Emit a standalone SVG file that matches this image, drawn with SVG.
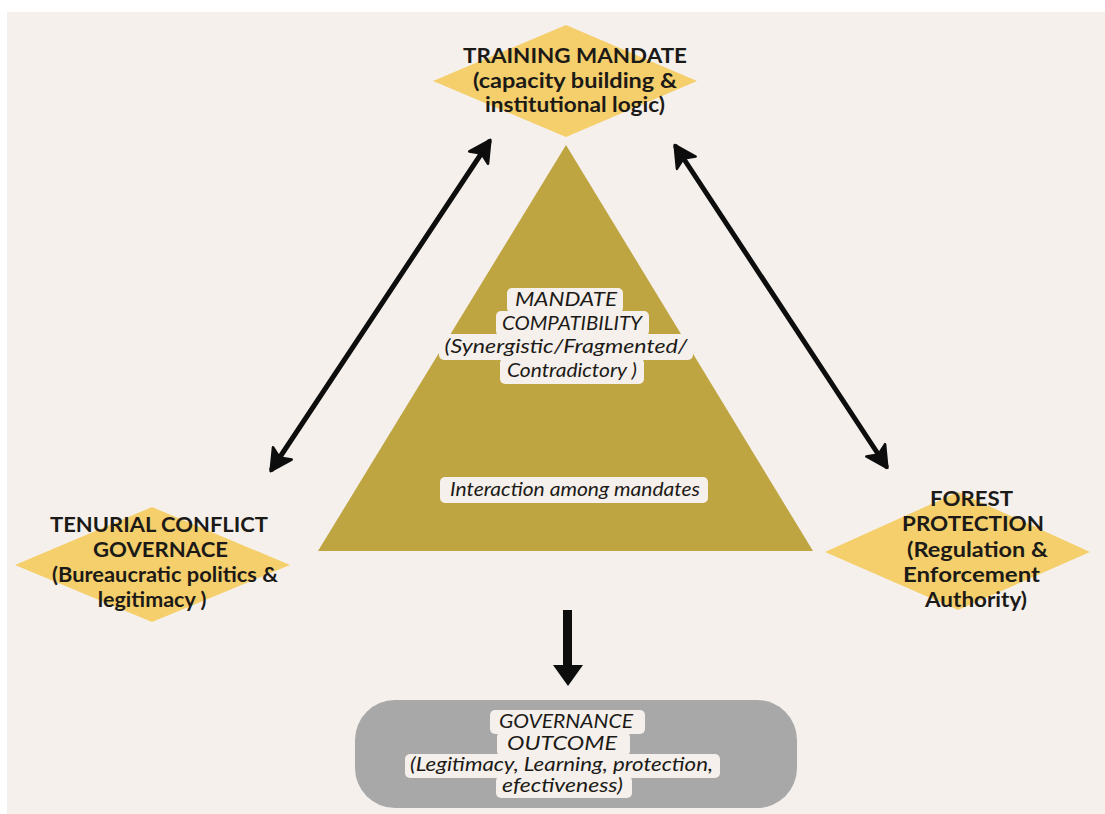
<svg xmlns="http://www.w3.org/2000/svg" width="1105" height="814" viewBox="0 0 1105 814">
  <defs>
    <style>
      .panel { fill: #f5f0eb; }
      .diamond { fill: #f5cf6c; }
      .pyramid { fill: #bfa442; }
      .outcome { fill: #a8a8a8; }
      .chip { fill: #f5f0eb; }
      .head { font-family: Lato, "Open Sans", "Liberation Sans", sans-serif; font-weight: 700; font-size: 21.5px; fill: #1c1a17; text-anchor: middle; }
      .note { font-family: Lato, "Open Sans", "Liberation Sans", sans-serif; font-style: italic; font-size: 18.5px; fill: #1c1a17; text-anchor: middle; }
      .link { stroke: #0d0d0d; stroke-width: 5; fill: none; stroke-linecap: round; }
    </style>
    <marker id="tip" viewBox="0 0 20 20" refX="17" refY="10" markerWidth="5" markerHeight="5" markerUnits="strokeWidth" orient="auto-start-reverse">
      <path d="M2,1 L19,10 L2,19 L6,10 Z" fill="#0d0d0d" stroke="#0d0d0d" stroke-width="2" stroke-linejoin="round"/>
    </marker>
  </defs>

  <!-- page -->
  <rect x="0" y="0" width="1105" height="814" fill="#ffffff"/>
  <rect class="panel" x="7" y="12" width="1098" height="802"/>

  <!-- central pyramid -->
  <g id="pyramid">
    <polygon class="pyramid" points="566,145 318,551 813,551"/>
  </g>

  <!-- mandate compatibility label -->
  <g id="compatibility">
    <rect class="chip" x="507" y="288" width="116" height="25" rx="5"/>
    <rect class="chip" x="496" y="311" width="153" height="25" rx="5"/>
    <rect class="chip" x="439" y="334" width="254" height="26" rx="5"/>
    <rect class="chip" x="500" y="358" width="144" height="26" rx="5"/>
    <text class="note" x="566" y="306" textLength="102" lengthAdjust="spacingAndGlyphs">MANDATE</text>
    <text class="note" x="572" y="330" textLength="140" lengthAdjust="spacingAndGlyphs">COMPATIBILITY</text>
    <text class="note" x="566" y="353" textLength="243" lengthAdjust="spacingAndGlyphs">(Synergistic/Fragmented/</text>
    <text class="note" x="572" y="377" textLength="130" lengthAdjust="spacingAndGlyphs">Contradictory )</text>
  </g>

  <!-- interaction label -->
  <g id="interaction">
    <rect class="chip" x="440" y="477" width="268" height="26" rx="5"/>
    <text class="note" x="575" y="496" textLength="250" lengthAdjust="spacingAndGlyphs">Interaction among mandates</text>
  </g>

  <!-- training mandate -->
  <g id="training">
    <polygon class="diamond" points="566,25 697,81 566,137 433,81"/>
    <text class="head" x="575" y="63" textLength="224" lengthAdjust="spacingAndGlyphs">TRAINING MANDATE</text>
    <text class="head" x="575" y="88" textLength="204" lengthAdjust="spacingAndGlyphs">(capacity building &amp;</text>
    <text class="head" x="575" y="112" textLength="180" lengthAdjust="spacingAndGlyphs">institutional logic)</text>
  </g>

  <!-- tenurial conflict governance -->
  <g id="tenurial">
    <polygon class="diamond" points="152,507 290,565 152,622 15,565"/>
    <text class="head" x="159" y="532" textLength="218" lengthAdjust="spacingAndGlyphs">TENURIAL CONFLICT</text>
    <text class="head" x="160.5" y="557" textLength="135" lengthAdjust="spacingAndGlyphs">GOVERNACE</text>
    <text class="head" x="165" y="582" textLength="226" lengthAdjust="spacingAndGlyphs">(Bureaucratic politics &amp;</text>
    <text class="head" x="152" y="607">legitimacy )</text>
  </g>

  <!-- forest protection -->
  <g id="forest">
    <polygon class="diamond" points="958,492 1090,552 958,610 825,552"/>
    <text class="head" x="971.5" y="506" textLength="83" lengthAdjust="spacingAndGlyphs">FOREST</text>
    <text class="head" x="973" y="531" textLength="142" lengthAdjust="spacingAndGlyphs">PROTECTION</text>
    <text class="head" x="977.5" y="557" textLength="141" lengthAdjust="spacingAndGlyphs">(Regulation &amp;</text>
    <text class="head" x="971.5" y="582" textLength="137" lengthAdjust="spacingAndGlyphs">Enforcement</text>
    <text class="head" x="976" y="607" textLength="102" lengthAdjust="spacingAndGlyphs">Authority)</text>
  </g>

  <!-- governance outcome -->
  <g id="outcome">
    <rect class="outcome" x="355" y="700" width="442" height="108" rx="40"/>
    <rect class="chip" x="490" y="710" width="155" height="24" rx="5"/>
    <rect class="chip" x="497" y="732" width="133" height="24" rx="5"/>
    <rect class="chip" x="405" y="754" width="315" height="24" rx="5"/>
    <rect class="chip" x="496" y="776" width="136" height="22" rx="5"/>
    <text class="note" x="566" y="728" textLength="134" lengthAdjust="spacingAndGlyphs">GOVERNANCE</text>
    <text class="note" x="562" y="750" textLength="110" lengthAdjust="spacingAndGlyphs">OUTCOME</text>
    <text class="note" x="561.5" y="771" textLength="303" lengthAdjust="spacingAndGlyphs">(Legitimacy, Learning, protection,</text>
    <text class="note" x="562.5" y="792" textLength="121" lengthAdjust="spacingAndGlyphs">efectiveness)</text>
  </g>

  <!-- connectors -->
  <g id="connectors">
    <line class="link" x1="272" y1="469" x2="489" y2="142" marker-start="url(#tip)" marker-end="url(#tip)"/>
    <line class="link" x1="676" y1="147" x2="886" y2="466" marker-start="url(#tip)" marker-end="url(#tip)"/>
    <rect x="563" y="610" width="9" height="57" fill="#0d0d0d"/>
    <polygon points="553,665 583,665 568,686" fill="#0d0d0d"/>
  </g>
</svg>
